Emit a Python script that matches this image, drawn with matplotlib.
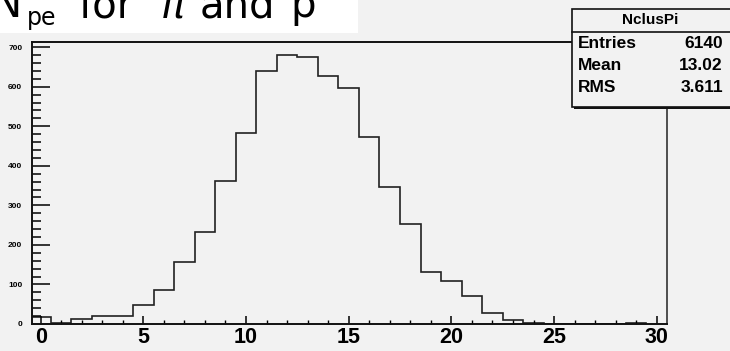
import numpy as np
import matplotlib
matplotlib.use('Agg')
import matplotlib.pyplot as plt
from matplotlib.patches import Rectangle
from matplotlib.lines import Line2D
from matplotlib.ticker import MultipleLocator

# histogram contents (NclusPi), bins of width 1 centred on 0..29
bin_edges = np.arange(-0.5, 30.5, 1.0)
counts = [18, 2, 12, 20, 20, 47, 86, 157, 232, 362,
          482, 640, 680, 675, 627, 597, 473, 346, 252, 132,
          109, 71, 27, 10, 2, 0, 0, 0, 0, 2]
stat_labels = ['Entries', 'Mean', 'RMS']
stat_values = ['6140', '13.02', '3.611']
hist_name = 'NclusPi'

W, H = 730, 351
BG = '#f2f2f2'
narrow = ['Liberation Sans Narrow', 'Liberation Sans', 'DejaVu Sans']

fig = plt.figure(figsize=(W / 100, H / 100), dpi=100, facecolor=BG)

def fx(px):
    return px / W

def fy(py):
    return 1 - py / H

# white title strip
fig.add_artist(Rectangle((0, fy(33)), fx(358), 33 / H, transform=fig.transFigure,
                         facecolor='white', edgecolor='none', zorder=0))

ax = fig.add_axes([fx(32), fy(324), fx(667) - fx(32), (324 - 42) / H])
ax.set_facecolor(BG)
ax.stairs(counts, bin_edges, color='#222222', lw=1.2)
ax.set_xlim(-0.42, 30.5)
ax.set_ylim(0, 713)

ax.xaxis.set_major_locator(MultipleLocator(5))
ax.xaxis.set_minor_locator(MultipleLocator(1))
ax.yaxis.set_major_locator(MultipleLocator(100))
ax.yaxis.set_minor_locator(MultipleLocator(20))
ax.tick_params(axis='x', which='major', direction='in', length=6, width=1.1, pad=2.5,
               top=False)
ax.tick_params(axis='x', which='minor', direction='in', length=3, width=1.0, top=False)
ax.tick_params(axis='y', which='major', direction='in', length=13, width=1.1, pad=7,
               right=False)
ax.tick_params(axis='y', which='minor', direction='in', length=6.5, width=1.1, right=False)
for lab in ax.get_xticklabels():
    lab.set_family(narrow)
    lab.set_fontweight('bold')
    lab.set_fontsize(15.5)
for lab in ax.get_yticklabels():
    lab.set_family(narrow)
    lab.set_fontweight('bold')
    lab.set_fontsize(6)
for side in ['left', 'bottom', 'top']:
    ax.spines[side].set_linewidth(1.4)
    ax.spines[side].set_color('#111111')
ax.spines['right'].set_linewidth(1.2)
ax.spines['right'].set_color('#333333')

# title pieces (cut at top like the original)
fig.text(fx(-8), fy(17), 'N', fontsize=29, ha='left', va='baseline', color='black')
fig.text(fx(27), fy(25), 'pe', fontsize=17, ha='left', va='baseline', color='black')
fig.text(fx(78), fy(17), 'for', fontsize=29, ha='left', va='baseline', color='black')
fig.text(fx(160), fy(17), r'$\pi$', fontsize=29, ha='left', va='baseline', color='black')
fig.text(fx(200), fy(17), 'and', fontsize=29, ha='left', va='baseline', color='black')
fig.text(fx(290), fy(17), 'p', fontsize=29, ha='left', va='baseline', color='black')

# stats box
bx0, by0, bx1, by1 = 572, 9, 735, 107
fig.add_artist(Rectangle((fx(bx0 + 2), fy(by1 + 2)), fx(bx1 - bx0), (by1 - by0) / H,
                         transform=fig.transFigure, facecolor='#111111',
                         edgecolor='none', zorder=5))
fig.add_artist(Rectangle((fx(bx0), fy(by1)), fx(bx1 - bx0), (by1 - by0) / H,
                         transform=fig.transFigure, facecolor=BG,
                         edgecolor='#111111', lw=1.2, zorder=6))
fig.add_artist(Line2D([fx(bx0), fx(bx1)], [fy(32), fy(32)], transform=fig.transFigure,
                      color='#111111', lw=1.2, zorder=7))
fig.text(fx(650), fy(20), hist_name, fontsize=11, family=narrow, fontweight='bold',
         ha='center', va='center', zorder=8)
row_y = [43, 66, 88]
for lab, val, yy in zip(stat_labels, stat_values, row_y):
    fig.text(fx(578), fy(yy), lab, fontsize=12.5, family=narrow, fontweight='bold',
             ha='left', va='center', zorder=8)
    fig.text(fx(723), fy(yy), val, fontsize=12.5, family=narrow, fontweight='bold',
             ha='right', va='center', zorder=8)

fig.savefig('out.png', dpi=100, facecolor=BG)
